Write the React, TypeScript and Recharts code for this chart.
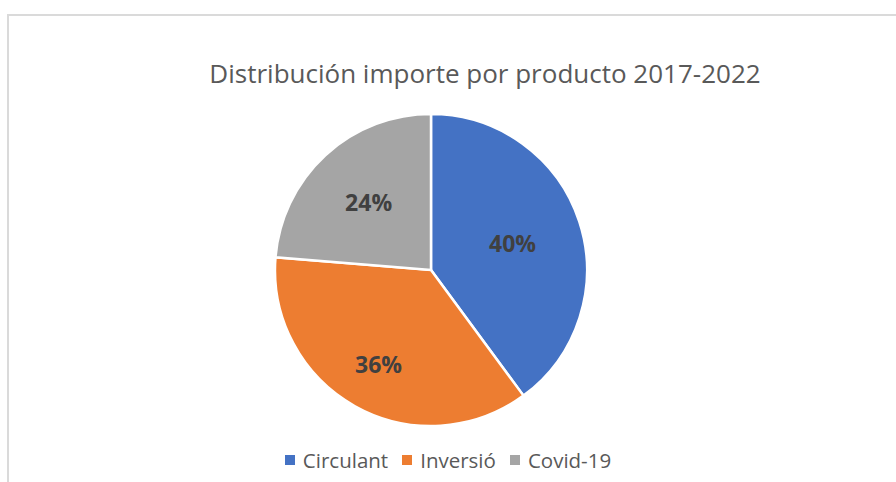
import React from 'react';
import { PieChart, Pie, Cell, Legend } from 'recharts';

const categories = ['Circulant', 'Inversió', 'Covid-19'];
const shares = [39.9, 36.4, 23.7];
const colors = ['#4472C4', '#ED7D31', '#A5A5A5'];
// how far out each percentage sits inside its slice (Excel "best fit")
const labelReach = [0.55, 0.69, 0.59];

const data = categories.map((name, i) => ({ name, value: shares[i] }));

const RADIAN = Math.PI / 180;
const FONT = '"Open Sans", "Noto Sans", sans-serif';

const renderLabel = (props: any) => {
  const { cx, cy, midAngle, outerRadius, percent, index } = props;
  const r = outerRadius * labelReach[index];
  const x = cx + r * Math.cos(-midAngle * RADIAN);
  const y = cy + r * Math.sin(-midAngle * RADIAN);
  return (
    <text
      x={x}
      y={y}
      fill="#404040"
      textAnchor="middle"
      dominantBaseline="central"
      style={{ fontFamily: FONT, fontSize: 23, fontWeight: 700 }}
    >
      {`${Math.round(percent * 100)}%`}
    </text>
  );
};

const renderLegend = () => (
  <div style={{ display: 'flex', justifyContent: 'center', alignItems: 'center', fontFamily: FONT }}>
    {categories.map((name, i) => (
      <div key={name} style={{ display: 'flex', alignItems: 'center', marginRight: i < categories.length - 1 ? 14 : 0 }}>
        <span style={{ width: 10, height: 10, background: colors[i], display: 'inline-block', marginRight: 8 }} />
        <span style={{ fontSize: 20.5, color: '#595959' }}>{name}</span>
      </div>
    ))}
  </div>
);

export default function App(): React.ReactElement {
  return (
    <div style={{ position: 'absolute', left: 0, top: 0, width: 896, height: 482, background: '#fff', overflow: 'hidden' }}>
      {/* chart area frame, cut off at right and bottom like the screenshot */}
      <div
        style={{
          position: 'absolute',
          left: 7,
          top: 14,
          width: 920,
          height: 520,
          border: '2px solid #dadada',
          boxSizing: 'border-box',
        }}
      />
      <div
        style={{
          position: 'absolute',
          left: 485 - 320,
          top: 54,
          width: 640,
          textAlign: 'center',
          fontFamily: FONT,
          fontSize: 26,
          color: '#595959',
          lineHeight: '38px',
        }}
      >
        Distribución importe por producto 2017-2022
      </div>
      <div style={{ position: 'absolute', left: 0, top: 0 }}>
        <PieChart width={896} height={482} margin={{ top: 0, right: 0, bottom: 0, left: 0 }}>
          <Pie
            data={data}
            dataKey="value"
            nameKey="name"
            cx={431}
            cy={270}
            outerRadius={156}
            startAngle={90}
            endAngle={-270}
            stroke="#ffffff"
            strokeWidth={2.5}
            label={renderLabel}
            labelLine={false}
            isAnimationActive={false}
          >
            {data.map((d, i) => (
              <Cell key={d.name} fill={colors[i]} />
            ))}
          </Pie>
          <Legend content={renderLegend} wrapperStyle={{ left: 0, top: 446, width: 896 }} />
        </PieChart>
      </div>
    </div>
  );
}
